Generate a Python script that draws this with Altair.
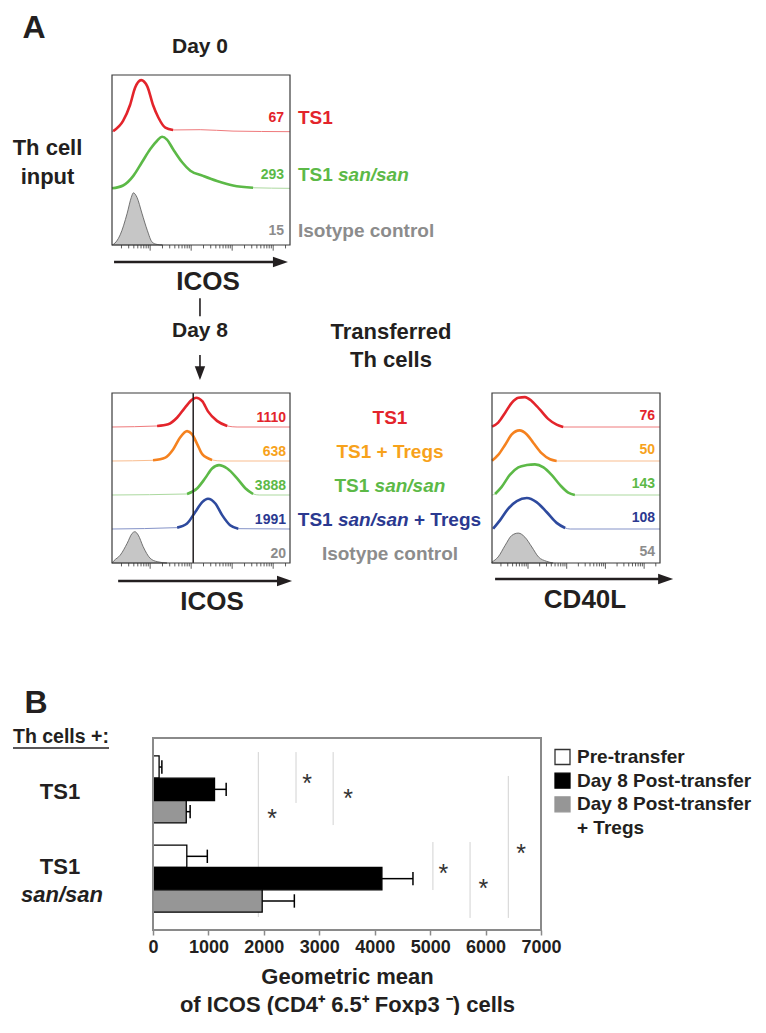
import numpy as np
import pandas as pd
import altair as alt

FONT = "Liberation Sans, Arial, Helvetica, sans-serif"
INK = "#231f20"

# ---------------- Panel A data: flow histograms ----------------
# L = log10 fluorescence, H = relative height of the histogram within its row
LMIN, LMAX = 1.07, 5.41

# Day 0, ICOS
TS1_D0_L = [1.07, 1.10, 1.34, 1.51, 1.63, 1.78, 1.93, 2.07, 2.20, 2.37, 2.56, 3.22, 4.02, 5.41]
TS1_D0_H = [0.0, 0.01, 0.19, 0.47, 0.77, 0.91, 0.80, 0.47, 0.25, 0.07, 0.03, 0.035, 0.01, 0.0]
SAN_D0_L = [1.07, 1.34, 1.59, 1.80, 2.00, 2.17, 2.29, 2.41, 2.56, 2.78, 2.98, 3.29, 3.63, 4.02, 4.51, 5.41]
SAN_D0_H = [0.0, 0.05, 0.22, 0.46, 0.69, 0.84, 0.91, 0.86, 0.69, 0.46, 0.31, 0.22, 0.13, 0.05, 0.01, 0.0]
ISO_D0_L = [1.07, 1.10, 1.27, 1.44, 1.54, 1.59, 1.68, 1.80, 1.93, 2.05, 2.17, 2.30]
ISO_D0_H = [0.0, 0.01, 0.18, 0.56, 0.84, 0.92, 0.84, 0.56, 0.26, 0.05, 0.01, 0.0]
D0_VALUES = ["67", "293", "15"]

# Day 8, ICOS
TS1_D8_L = [1.07, 2.17, 2.44, 2.66, 2.85, 3.02, 3.12, 3.27, 3.41, 3.63, 3.88, 4.12, 5.41]
TS1_D8_H = [0.0, 0.03, 0.08, 0.28, 0.57, 0.80, 0.86, 0.76, 0.46, 0.18, 0.03, 0.0, 0.0]
TRG_D8_L = [1.07, 2.07, 2.37, 2.56, 2.73, 2.90, 3.02, 3.15, 3.27, 3.51, 3.76, 5.41]
TRG_D8_H = [0.0, 0.02, 0.10, 0.34, 0.69, 0.88, 0.79, 0.49, 0.20, 0.03, 0.0, 0.0]
SAN_D8_L = [1.07, 2.90, 3.15, 3.34, 3.51, 3.68, 3.88, 4.12, 4.32, 4.51, 4.66, 5.41]
SAN_D8_H = [0.0, 0.03, 0.20, 0.49, 0.78, 0.88, 0.78, 0.49, 0.20, 0.03, 0.0, 0.0]
SNT_D8_L = [1.07, 2.66, 2.90, 3.10, 3.27, 3.41, 3.59, 3.76, 3.95, 4.15, 5.41]
SNT_D8_H = [0.0, 0.04, 0.16, 0.50, 0.79, 0.89, 0.75, 0.40, 0.11, 0.01, 0.0]
ISO_D8_L = [1.07, 1.12, 1.27, 1.44, 1.56, 1.63, 1.71, 1.83, 2.00, 2.17, 2.41]
ISO_D8_H = [0.0, 0.07, 0.23, 0.58, 0.87, 0.92, 0.82, 0.48, 0.14, 0.04, 0.0]
D8_VALUES = ["1110", "638", "3888", "1991", "20"]
D8_MARKER = 3.05

# Day 8, CD40L
TS1_CD_L = [1.07, 1.23, 1.41, 1.58, 1.75, 1.92, 2.10, 2.31, 2.52, 2.74, 2.91, 5.41]
TS1_CD_H = [0.01, 0.13, 0.42, 0.71, 0.86, 0.88, 0.76, 0.51, 0.24, 0.07, 0.0, 0.0]
TRG_CD_L = [1.07, 1.23, 1.41, 1.58, 1.78, 1.97, 2.14, 2.35, 2.57, 2.74, 5.41]
TRG_CD_H = [0.01, 0.18, 0.48, 0.78, 0.90, 0.78, 0.53, 0.23, 0.05, 0.0, 0.0]
SAN_CD_L = [1.07, 1.15, 1.32, 1.53, 1.75, 1.97, 2.18, 2.40, 2.61, 2.83, 3.04, 3.21, 5.41]
SAN_CD_H = [0.0, 0.03, 0.24, 0.59, 0.81, 0.88, 0.90, 0.81, 0.59, 0.29, 0.07, 0.0, 0.0]
SNT_CD_L = [1.07, 1.10, 1.28, 1.49, 1.71, 1.97, 2.22, 2.48, 2.74, 2.96, 3.09, 5.41]
SNT_CD_H = [0.0, 0.01, 0.26, 0.60, 0.82, 0.91, 0.79, 0.50, 0.18, 0.03, 0.0, 0.0]
ISO_CD_L = [1.07, 1.23, 1.41, 1.58, 1.75, 1.92, 2.10, 2.27, 2.48, 2.65]
ISO_CD_H = [0.03, 0.18, 0.52, 0.81, 0.88, 0.76, 0.47, 0.18, 0.05, 0.0]
CD_VALUES = ["76", "50", "143", "108", "54"]

# ---------------- Panel B data: bar chart ----------------
GROUPS = ["TS1", "TS1 san/san"]
SERIES = ["Pre-transfer", "Day 8 Post-transfer", "Day 8 Post-transfer + Tregs"]
PRE = [110, 610]
D8 = [1110, 4130]
D8T = [600, 1970]
PRE_ERR = [50, 370]
D8_ERR = [210, 560]
D8T_ERR = [70, 580]
SIG_X = [1900, 2580, 3250, 5050, 5720, 6410]
SIG_Y0 = [0.63, 0.63, 0.63, 4.66, 4.66, 1.70]
SIG_Y1 = [8.02, 2.91, 3.90, 6.81, 8.06, 8.06]
STAR_X = [2150, 2780, 3520, 5240, 5960, 6640]
STAR_Y = [3.36, 1.79, 2.46, 5.82, 6.49, 4.93]
LEGEND_LINES = ["Pre-transfer", "Day 8 Post-transfer", "Day 8 Post-transfer", "+ Tregs"]

# ---------------- colours ----------------
RED, RED_L = "#e3242b", "#ef7a7c"
ORA, ORA_T, ORA_L = "#f5821f", "#f7a21b", "#f9bd8f"
GRN, GRN_L = "#5cb947", "#acd99f"
BLU, BLU_T, BLU_L = "#2e4a9e", "#2b3990", "#8593c8"
GRY_T = "#8c8c8c"

# ---------------- layout (canvas pixels) ----------------
B1X, B1Y = [104, 282], [237, 67]
B2X, B2Y = [104, 282], [555, 385]
B3X, B3Y = [484, 652], [555, 385]
BX = alt.Scale(domain=[0, 7000], range=[145, 533], nice=False, zero=False)
BY = alt.Scale(domain=[0, 8.6], range=[730, 922], nice=False, zero=False)

RIGHT_HEAD = "M-1.6,-0.55L0,0L-1.6,0.55Z"
DOWN_HEAD = "M-0.6,-1.6L0,0L0.6,-1.6Z"


def X(field, rng):
    return alt.X(f"{field}:Q", scale=alt.Scale(domain=[LMIN, LMAX], range=rng, nice=False, zero=False), axis=None)


def Y(field, n, rng):
    return alt.Y(f"{field}:Q", scale=alt.Scale(domain=[0, n], range=rng, nice=False, zero=False), axis=None)


def curve_layers(L, H, row, n, xr, yr, col, light):
    base = n - 1 - row
    df = pd.DataFrame({"L": L, "h": H, "base": base, "yv": [base + h for h in H]})
    main = df.h >= 0.05
    df["thick"] = main | main.shift(1, fill_value=False) | main.shift(-1, fill_value=False)
    thin = alt.Chart(df).mark_line(color=light, strokeWidth=1, interpolate="monotone").encode(
        x=X("L", xr), y=Y("yv", n, yr))
    thick = alt.Chart(df[df.thick]).mark_line(
        color=col, strokeWidth=2.6, interpolate="monotone").encode(x=X("L", xr), y=Y("yv", n, yr))
    return [thin, thick]


def iso_layer(L, H, n, xr, yr):
    df = pd.DataFrame({"L": L, "h": H, "base": 0.0, "yv": H})
    return [alt.Chart(df).mark_area(fill="#c6c6c6", stroke="#555555", strokeWidth=0.8,
                                    interpolate="monotone").encode(
        x=X("L", xr), y=Y("yv", n, yr), y2=alt.Y2("base:Q"))]


def frame(n, xr, yr):
    df = pd.DataFrame({"a": [LMIN], "b": [LMAX], "c": [0], "d": [n]})
    return alt.Chart(df).mark_rect(filled=False, stroke="#3a3a3a", strokeWidth=1.2).encode(
        x=X("a", xr), x2="b:Q", y=Y("c", n, yr), y2="d:Q")


def ticks(n, xr, yr, minor, major):
    vals = [d + np.log10(k) for d in range(1, 6) for k in range(1, 10)]
    df = pd.DataFrame({"L": vals, "k": [k for d in range(1, 6) for k in range(1, 10)]})
    df = df[(df.L >= LMIN) & (df.L <= LMAX)].copy()
    df["y0"] = 0.0
    df["y1"] = np.where(df.k == 1, -major, -minor)
    return alt.Chart(df).mark_rule(color="#333333", strokeWidth=0.8).encode(
        x=X("L", xr), y=Y("y0", n, yr), y2="y1:Q")


def harrow(start, tip, yv, n, xr, yr):
    df = pd.DataFrame({"a": [start], "b": [tip - 0.25], "t": [tip], "y": [yv]})
    line = alt.Chart(df).mark_rule(color=INK, strokeWidth=2.6).encode(x=X("a", xr), x2="b:Q", y=Y("y", n, yr))
    head = alt.Chart(df).mark_point(shape=RIGHT_HEAD, size=353, filled=True, color=INK, opacity=1,
                                    strokeWidth=0).encode(x=X("t", xr), y=Y("y", n, yr))
    return [line, head]


def row_text(n, yr, rows, texts, colors, x, align, size, off, style="normal"):
    df = pd.DataFrame({"t": texts, "c": colors, "y": [n - 1 - r + off for r in rows]})
    return alt.Chart(df).mark_text(align=align, baseline="middle", font=FONT, fontSize=size,
                                   fontWeight="bold", fontStyle=style).encode(
        x=alt.value(x), y=Y("y", n, yr), text="t:N", color=alt.Color("c:N", scale=None))


def label(text, x, y, size, style="normal", color=INK, align="center", weight="bold"):
    return alt.Chart(pd.DataFrame({"t": [text]})).mark_text(
        align=align, baseline="middle", font=FONT, fontSize=size, fontWeight=weight,
        fontStyle=style, color=color).encode(text="t:N", x=alt.value(x), y=alt.value(y))


layers = []

# ---- Box 1: Day 0 ICOS ----
layers += iso_layer(ISO_D0_L, ISO_D0_H, 3, B1X, B1Y)
layers += curve_layers(TS1_D0_L, TS1_D0_H, 0, 3, B1X, B1Y, RED, RED_L)
layers += curve_layers(SAN_D0_L, SAN_D0_H, 1, 3, B1X, B1Y, GRN, GRN_L)
layers += [frame(3, B1X, B1Y), ticks(3, B1X, B1Y, 0.06, 0.1)]
layers += harrow(1.12, 5.36, -0.3, 3, B1X, B1Y)
layers.append(row_text(3, B1Y, [0, 1, 2], D0_VALUES, [RED, GRN, GRY_T], 276, "right", 14, 0.24))
layers.append(row_text(3, B1Y, [0, 1, 2], ["TS1", "TS1", "Isotype control"], [RED, GRN, GRY_T], 290, "left", 19, 0.24))
layers.append(row_text(3, B1Y, [1], ["san/san"], [GRN], 330, "left", 19, 0.24, "italic"))

# ---- Box 2: Day 8 ICOS ----
layers += iso_layer(ISO_D8_L, ISO_D8_H, 5, B2X, B2Y)
layers += curve_layers(TS1_D8_L, TS1_D8_H, 0, 5, B2X, B2Y, RED, RED_L)
layers += curve_layers(TRG_D8_L, TRG_D8_H, 1, 5, B2X, B2Y, ORA, ORA_L)
layers += curve_layers(SAN_D8_L, SAN_D8_H, 2, 5, B2X, B2Y, GRN, GRN_L)
layers += curve_layers(SNT_D8_L, SNT_D8_H, 3, 5, B2X, B2Y, BLU, BLU_L)
mk = pd.DataFrame({"L": [D8_MARKER], "a": [0], "b": [5]})
layers.append(alt.Chart(mk).mark_rule(color=INK, strokeWidth=1.5).encode(
    x=X("L", B2X), y=Y("a", 5, B2Y), y2="b:Q"))
layers += [frame(5, B2X, B2Y), ticks(5, B2X, B2Y, 0.1, 0.17)]
layers += harrow(1.22, 5.46, -0.53, 5, B2X, B2Y)
layers.append(row_text(5, B2Y, [0, 1, 2, 3, 4], D8_VALUES, [RED, ORA_T, GRN, BLU_T, GRY_T], 278, "right", 14, 0.27))
layers.append(row_text(5, B2Y, [0, 1, 4], ["TS1", "TS1 + Tregs", "Isotype control"], [RED, ORA_T, GRY_T], 382, "center", 19, 0.27))
layers.append(row_text(5, B2Y, [2], ["TS1"], [GRN], 326.5, "left", 19, 0.27))
layers.append(row_text(5, B2Y, [2], ["san/san"], [GRN], 366.6, "left", 19, 0.27, "italic"))
layers.append(row_text(5, B2Y, [3], ["TS1"], [BLU_T], 289.8, "left", 19, 0.27))
layers.append(row_text(5, B2Y, [3], ["san/san"], [BLU_T], 329.9, "left", 19, 0.27, "italic"))
layers.append(row_text(5, B2Y, [3], ["+ Tregs"], [BLU_T], 406, "left", 19, 0.27))

# Day 0 -> Day 8 connector
con = pd.DataFrame({"L": [3.215], "a": [7.79], "b": [7.26], "c": [6.12], "d": [5.55], "t": [5.38]})
layers.append(alt.Chart(con).mark_rule(color=INK, strokeWidth=1.6).encode(x=X("L", B2X), y=Y("a", 5, B2Y), y2="b:Q"))
layers.append(alt.Chart(con).mark_rule(color=INK, strokeWidth=1.6).encode(x=X("L", B2X), y=Y("c", 5, B2Y), y2="d:Q"))
layers.append(alt.Chart(con).mark_point(shape=DOWN_HEAD, size=300, filled=True, color=INK, opacity=1,
                                        strokeWidth=0).encode(x=X("L", B2X), y=Y("t", 5, B2Y)))

# ---- Box 3: Day 8 CD40L ----
layers += iso_layer(ISO_CD_L, ISO_CD_H, 5, B3X, B3Y)
layers += curve_layers(TS1_CD_L, TS1_CD_H, 0, 5, B3X, B3Y, RED, RED_L)
layers += curve_layers(TRG_CD_L, TRG_CD_H, 1, 5, B3X, B3Y, ORA, ORA_L)
layers += curve_layers(SAN_CD_L, SAN_CD_H, 2, 5, B3X, B3Y, GRN, GRN_L)
layers += curve_layers(SNT_CD_L, SNT_CD_H, 3, 5, B3X, B3Y, BLU, BLU_L)
layers += [frame(5, B3X, B3Y), ticks(5, B3X, B3Y, 0.1, 0.17)]
layers += harrow(1.15, 5.75, -0.47, 5, B3X, B3Y)
layers.append(row_text(5, B3Y, [0, 1, 2, 3, 4], CD_VALUES, [RED, ORA_T, GRN, BLU_T, GRY_T], 647, "right", 14, 0.33))

# ---- Panel A free text ----
layers += [
    label("A", 26, 20, 32),
    label("Day 0", 192, 39, 21),
    label("Th cell", 39.5, 140, 22),
    label("input", 39.5, 169, 22),
    label("ICOS", 200, 274, 26),
    label("Day 8", 192, 323, 21),
    label("Transferred", 383, 324, 22),
    label("Th cells", 383, 352, 22),
    label("ICOS", 204, 594, 26),
    label("CD40L", 577, 592, 26),
]

# ---------------- Panel B ----------------
recs = []
for gi, g in enumerate(GROUPS):
    for si, (s, m, e) in enumerate(zip(SERIES, [PRE[gi], D8[gi], D8T[gi]], [PRE_ERR[gi], D8_ERR[gi], D8T_ERR[gi]])):
        recs.append({"group": g, "series": s, "gi": gi, "si": si, "mean": m, "err": e})
bars = pd.DataFrame(recs)
pos = alt.Chart(bars).transform_calculate(
    y0="0.8 + 4*datum.gi + datum.si", y1="1.8 + 4*datum.gi + datum.si",
    ym="1.3 + 4*datum.gi + datum.si", c0="1.0 + 4*datum.gi + datum.si",
    c1="1.6 + 4*datum.gi + datum.si", hi="datum.mean + datum.err", zero="0")

sig = pd.DataFrame({"x": SIG_X, "a": SIG_Y0, "b": SIG_Y1})
layers.append(alt.Chart(sig).mark_rule(color="#d2d2d2", strokeWidth=1).encode(
    x=alt.X("x:Q", scale=BX, axis=None), y=alt.Y("a:Q", scale=BY, axis=None), y2="b:Q"))

fill_scale = alt.Scale(domain=SERIES, range=["#ffffff", "#000000", "#969696"])
xaxis = alt.Axis(values=list(range(0, 7001, 1000)), format="d", labelFont=FONT, labelFontSize=18,
                 labelFontWeight="bold", labelColor=INK, tickColor="#8a8a8a", tickWidth=1.5, tickSize=5,
                 domain=False, grid=False, labelPadding=3, labelFlush=False,
                 title=["Geometric mean", "of ICOS (CD4\u207a 6.5\u207a Foxp3 \u207b) cells"],
                 titleFont=FONT, titleFontSize=22, titleFontWeight="bold", titleColor=INK,
                 titlePadding=10, titleLineHeight=28)
layers.append(pos.mark_rect(stroke="#000000", strokeWidth=1.3).encode(
    x=alt.X("mean:Q", scale=BX, axis=xaxis), x2="zero:Q",
    y=alt.Y("y0:Q", scale=BY, axis=None), y2="y1:Q",
    fill=alt.Fill("series:N", scale=fill_scale, legend=None)))
layers.append(pos.mark_rule(color="#000000", strokeWidth=1.5).encode(
    x=alt.X("mean:Q", scale=BX, axis=None), x2="hi:Q", y=alt.Y("ym:Q", scale=BY, axis=None)))
layers.append(pos.mark_rule(color="#000000", strokeWidth=1.5).encode(
    x=alt.X("hi:Q", scale=BX, axis=None), y=alt.Y("c0:Q", scale=BY, axis=None), y2="c1:Q"))

stars = pd.DataFrame({"x": STAR_X, "y": STAR_Y, "t": ["*"] * len(STAR_X)})
layers.append(alt.Chart(stars).mark_text(font=FONT, fontSize=25, color="#333333", baseline="alphabetic",
                                         dy=14).encode(
    x=alt.X("x:Q", scale=BX, axis=None), y=alt.Y("y:Q", scale=BY, axis=None), text="t:N"))

bframe = pd.DataFrame({"a": [0], "b": [7000], "c": [0], "d": [8.6]})
layers.append(alt.Chart(bframe).mark_rect(filled=False, stroke="#8a8a8a", strokeWidth=2).encode(
    x=alt.X("a:Q", scale=BX, axis=None), x2="b:Q", y=alt.Y("c:Q", scale=BY, axis=None), y2="d:Q"))

# category labels
cat = pd.DataFrame({"t": ["TS1", "TS1", "san/san"], "y": [2.42, 5.78, 7.03], "s": ["normal", "normal", "italic"]})
layers.append(alt.Chart(cat).transform_filter("datum.s == 'normal'").mark_text(
    font=FONT, fontSize=22, fontWeight="bold", color=INK, baseline="middle").encode(
    x=alt.value(52), y=alt.Y("y:Q", scale=BY, axis=None), text="t:N"))
layers.append(alt.Chart(cat).transform_filter("datum.s == 'italic'").mark_text(
    font=FONT, fontSize=22, fontWeight="bold", fontStyle="italic", color=INK, baseline="middle").encode(
    x=alt.value(54), y=alt.Y("y:Q", scale=BY, axis=None), text="t:N"))

# legend
LY = alt.Scale(domain=[0, 3], range=[749, 820], nice=False, zero=False)
leg = pd.DataFrame({"i": [0, 1, 2], "series": SERIES})
layers.append(alt.Chart(leg).mark_square(size=225, opacity=1, strokeWidth=1.3).encode(
    x=alt.value(554.5), y=alt.Y("i:Q", scale=LY, axis=None),
    fill=alt.Fill("series:N", scale=fill_scale, legend=None),
    stroke=alt.Stroke("series:N", scale=alt.Scale(domain=SERIES, range=["#333333", "#000000", "#969696"]),
                      legend=None)))
legt = pd.DataFrame({"i": [0, 1, 2, 3], "t": LEGEND_LINES})
layers.append(alt.Chart(legt).mark_text(font=FONT, fontSize=19, fontWeight="bold", color=INK,
                                        align="left", baseline="middle").encode(
    x=alt.value(569), y=alt.Y("i:Q", scale=LY, axis=None), text="t:N"))

layers += [
    label("B", 28, 695, 32),
    label("Th cells +:", 5, 729, 19.5, align="left"),
]
layers.append(alt.Chart(pd.DataFrame({"a": [0]})).mark_rule(color=INK, strokeWidth=1.6).encode(
    x=alt.value(5), x2=alt.value(101), y=alt.value(740)))

chart = alt.layer(*layers).resolve_scale(
    x="independent", y="independent", fill="independent", stroke="independent", color="independent"
).properties(width=750, height=922, padding=0).configure_view(strokeWidth=0)

chart.save("out.html", embed_options={"renderer": "svg", "actions": False})
